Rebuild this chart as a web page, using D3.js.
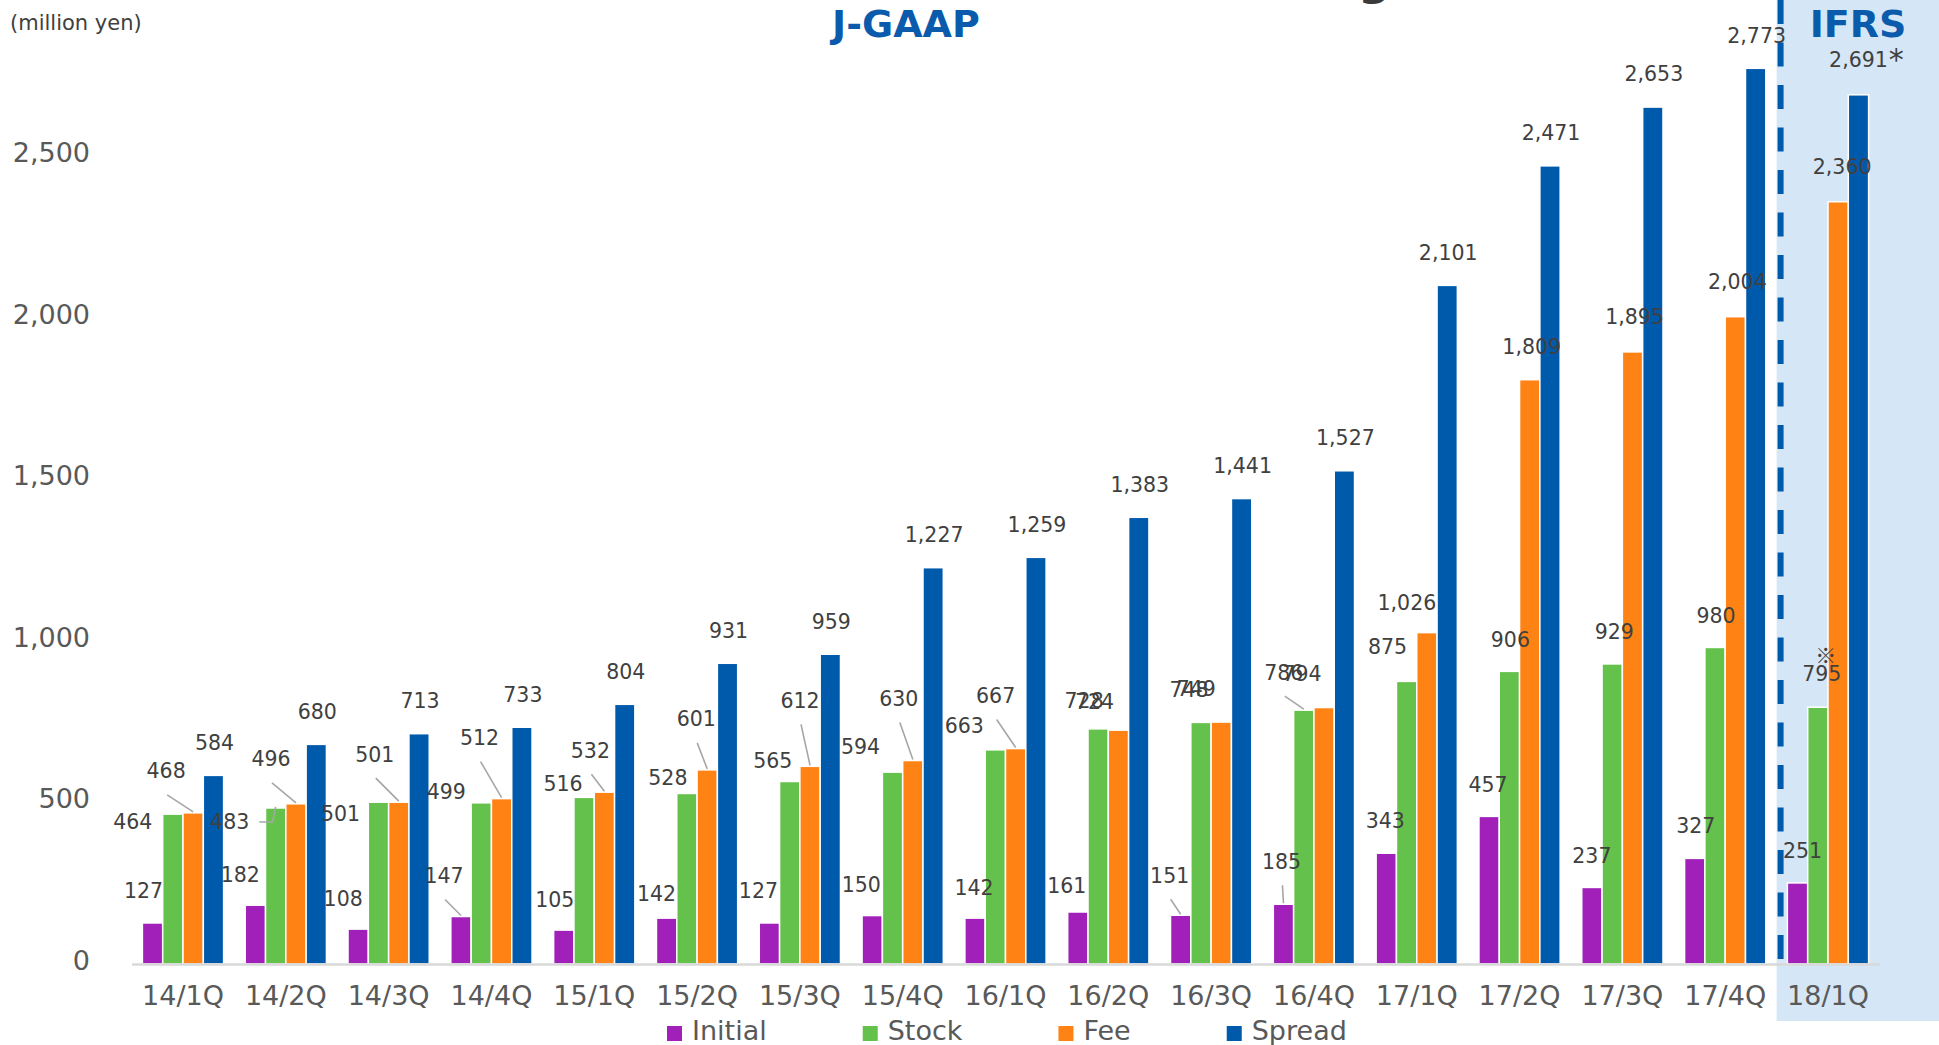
<!DOCTYPE html>
<html><head><meta charset="utf-8">
<script src="https://cdn.jsdelivr.net/npm/d3@7/dist/d3.min.js"></script>
<style>html,body{margin:0;padding:0;background:#fff;overflow:hidden}</style>
</head><body>
<svg id="chart" width="1939" height="1045"></svg>
<script>
// ---------------- data ----------------
const categories = ["14/1Q","14/2Q","14/3Q","14/4Q","15/1Q","15/2Q","15/3Q","15/4Q","16/1Q","16/2Q","16/3Q","16/4Q","17/1Q","17/2Q","17/3Q","17/4Q","18/1Q"];
const seriesNames = ["Initial","Stock","Fee","Spread"];
const initialValues = [127,182,108,147,105,142,127,150,142,161,151,185,343,457,237,327,251];
const stockValues   = [464,483,501,499,516,528,565,594,663,728,748,786,875,906,929,980,795];
const feeValues     = [468,496,501,512,532,601,612,630,667,724,749,794,1026,1809,1895,2004,2360];
const spreadValues  = [584,680,713,733,804,931,959,1227,1259,1383,1441,1527,2101,2471,2653,2773,2691];
const yTicks = [0,500,1000,1500,2000,2500];
const unitLabel = "(million yen)";
const gaapLabel = "J-GAAP";
const ifrsLabel = "IFRS";
const ifrsCategories = ["18/1Q"];
const stockNotes  = ["","","","","","","","","","","","","","","","","※"];
const spreadNotes = ["","","","","","","","","","","","","","","","","*"];

// ---------------- label layout (offsets of label centre from bar top centre) ----------------
const initialNudge = [[-9,-32],[-15,-31],[-15,-30],[-17,-41],[-9,-30],[-10,-25],[-11,-32],[-11,-31],[-1,-31],[-11,-26],[-11,-40],[-2,-43],[-1,-33],[-1,-32],[0,-32],[1,-33],[5,-32]];
const stockNudge   = [[-40,7],[-46,14],[-38,11],[-35,-11],[-21,-14],[-19,-16],[-17,-21],[-32,-26],[-31,-24],[-14,-28],[-12,-33],[-20,-38],[-19,-35],[1,-32],[2,-32],[1,-32],[4,-34]];
const feeNudge     = [[-27,-42],[-25,-45],[-24,-48],[-22,-61],[-14,-42],[-11,-51],[-10,-66],[-14,-62],[-20,-53],[-24,-29],[-25,-33],[-22,-34],[-20,-30],[2,-33],[2,-35],[2,-35],[4,-35]];
const spreadNudge  = categories.map((c,i)=> i===16 ? [0,-35] : [1,-33]);
const initialLeader = [0,0,0,1,0,0,0,0,0,0,1,1,0,0,0,0,0];
const stockLeader   = [0,1,0,0,0,0,0,0,0,0,0,1,0,0,0,0,0];
const feeLeader     = [1,1,1,1,1,1,1,1,1,0,0,0,0,0,0,0,0];
const spreadLeader  = categories.map(()=>0);

const seriesValues = [initialValues, stockValues, feeValues, spreadValues];
const seriesNudge  = [initialNudge, stockNudge, feeNudge, spreadNudge];
const seriesLeader = [initialLeader, stockLeader, feeLeader, spreadLeader];
const seriesNotes  = [null, stockNotes, null, spreadNotes];

// ---------------- drawing ----------------
const W = 1939, H = 1045;
const svg = d3.select("#chart");
const FONT = "'DejaVu Sans', Verdana, sans-serif";

const x = d3.scaleBand().domain(categories).range([131.6, 1879.4]).paddingInner(0.21).paddingOuter(0.105);
const xs = d3.scaleBand().domain(seriesNames).range([0, x.bandwidth()]);
const y = d3.scaleLinear().domain([0, 2500]).range([964, 156.5]);
const color = d3.scaleOrdinal().domain(seriesNames).range(["#a020b9", "#64c24c", "#ff8214", "#005aac"]);

// IFRS background
const ifrsLeft = x(ifrsCategories[0]) - x.step() * x.paddingInner() / 2;
svg.append("rect").attr("x", ifrsLeft).attr("y", 0).attr("width", W - ifrsLeft).attr("height", 1021).attr("fill", "#d5e6f6");

// cut-off title fragment at top
svg.append("text").attr("x", 1358).attr("y", -6).attr("font-family", FONT).attr("font-weight", "bold")
  .attr("font-size", 46).attr("fill", "#3a3a3a").text("g");

// y axis labels
const yAxis = d3.axisLeft(y).tickValues(yTicks).tickSize(0).tickPadding(2).tickFormat(d3.format(","));
const gy = svg.append("g").attr("transform", "translate(92,0)").call(yAxis);
gy.select(".domain").remove();
gy.selectAll("text").attr("font-family", FONT).attr("font-size", 27).attr("fill", "#595959").attr("dy", "0.2em");

// bars
const groups = svg.append("g").selectAll("g").data(categories).join("g")
  .attr("transform", d => `translate(${x(d)},0)`);
seriesNames.forEach((s, si) => {
  groups.append("rect")
    .attr("x", xs(s)).attr("width", xs.bandwidth())
    .attr("y", (d, i) => y(seriesValues[si][i]))
    .attr("height", (d, i) => y(0) - y(seriesValues[si][i]))
    .attr("fill", color(s)).attr("stroke", "#fff").attr("stroke-width", 1.5);
});

// x axis
const xAxis = d3.axisBottom(x).tickSize(0).tickSizeOuter(0).tickPadding(22);
const gx = svg.append("g").attr("transform", `translate(0,${y(0)})`).call(xAxis);
gx.select(".domain").attr("stroke", "#d9d9d9").attr("stroke-width", 2.5);
gx.selectAll("text").attr("font-family", FONT).attr("font-size", 27).attr("fill", "#595959");

// dashed separator
svg.append("line").attr("x1", ifrsLeft + 4).attr("x2", ifrsLeft + 4).attr("y1", 0).attr("y2", 960)
  .attr("stroke", "#005aac").attr("stroke-width", 6).attr("stroke-dasharray", "24,18.5");

// data labels + leaders
const fmt = d3.format(",");
const leaderG = svg.append("g");
const labelG = svg.append("g");
seriesNames.forEach((s, si) => {
  categories.forEach((c, i) => {
    const v = seriesValues[si][i];
    const bx = x(c) + xs(s) + xs.bandwidth() / 2;
    const top = y(v);
    const [dx, dy] = seriesNudge[si][i];
    const cx = bx + dx, cy = top + dy;
    const t = labelG.append("text").attr("x", cx).attr("y", cy).attr("dy", "0.36em")
      .attr("text-anchor", "middle").attr("font-family", FONT).attr("font-size", 20.5)
      .attr("fill", "#404040").text(fmt(v));
    const bb = t.node().getBBox();
    if (seriesLeader[si][i]) {
      let p;
      if (Math.abs(cy - top) < 20 && bx > bb.x + bb.width) {
        const sx = bb.x + bb.width + 10;
        p = `M${sx},${cy}H${bx - 3}L${bx},${top - 1}`;
      } else {
        p = `M${cx + 1},${cy + 24}L${bx},${top - 1}`;
      }
      leaderG.append("path").attr("d", p).attr("fill", "none").attr("stroke", "#a6a6a6").attr("stroke-width", 1.6);
    }
    const notes = seriesNotes[si];
    if (notes && notes[i] === "※") {
      labelG.append("text").attr("x", cx + 4).attr("y", cy - 18).attr("dy", "0.35em")
        .attr("text-anchor", "middle").attr("font-family", "'Noto Sans CJK JP', sans-serif")
        .attr("font-size", 21).attr("fill", "#404040").text(notes[i]);
    } else if (notes && notes[i]) {
      labelG.append("text").attr("x", bb.x + bb.width + 1).attr("y", cy + 10)
        .attr("font-family", FONT).attr("font-size", 30).attr("fill", "#404040").text(notes[i]);
    }
  });
});

// headings
svg.append("text").attr("x", 10).attr("y", 30).attr("font-family", FONT).attr("font-size", 21)
  .attr("fill", "#404040").text(unitLabel);
svg.append("text").attr("x", 906).attr("y", 37).attr("text-anchor", "middle").attr("font-family", FONT)
  .attr("font-weight", "bold").attr("font-size", 38).attr("fill", "#0a5bab").text(gaapLabel);
svg.append("text").attr("x", 1858).attr("y", 37).attr("text-anchor", "middle").attr("font-family", FONT)
  .attr("font-weight", "bold").attr("font-size", 38).attr("fill", "#0a5bab").text(ifrsLabel);

// legend
const legend = svg.append("g");
let lx = 667;
seriesNames.forEach(s => {
  legend.append("rect").attr("x", lx).attr("y", 1026).attr("width", 15).attr("height", 15).attr("fill", color(s));
  const t = legend.append("text").attr("x", lx + 25).attr("y", 1040).attr("font-family", FONT)
    .attr("font-size", 27).attr("fill", "#595959").text(s);
  lx += 25 + t.node().getComputedTextLength() + 96;
});
</script>
</body></html>
